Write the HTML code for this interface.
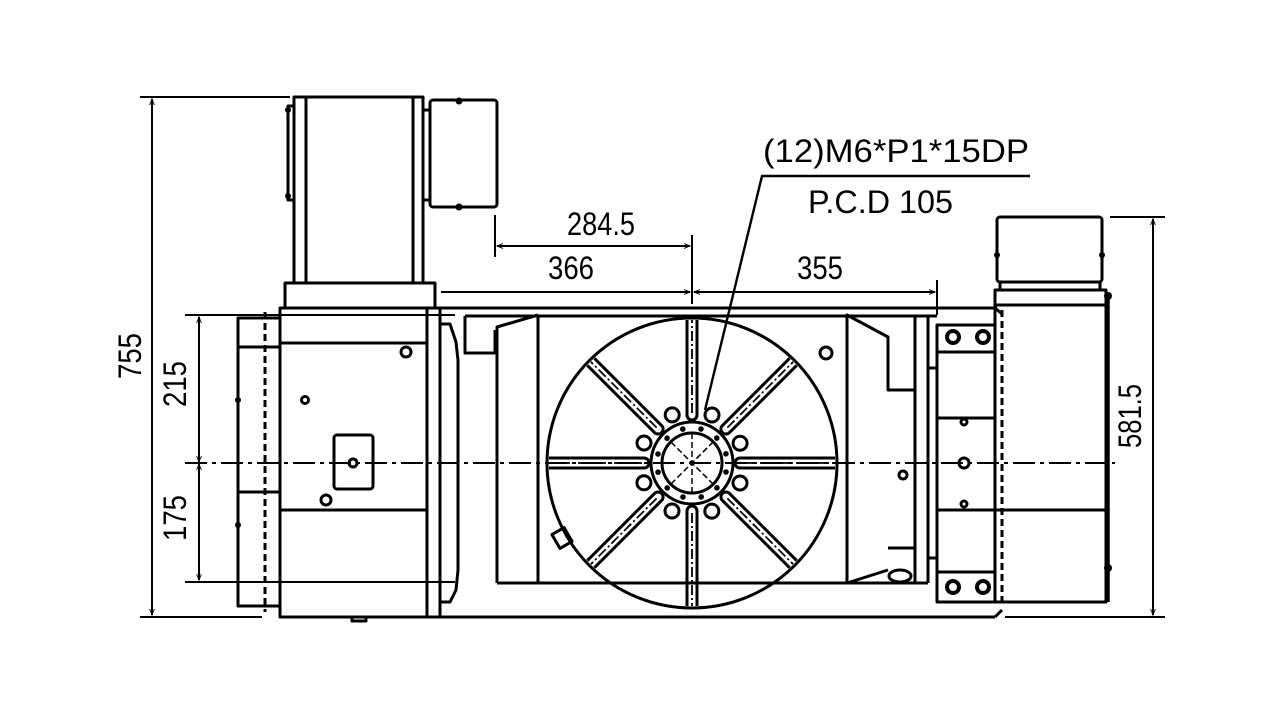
<!DOCTYPE html>
<html><head><meta charset="utf-8"><style>html,body{margin:0;padding:0;background:#fff}svg{display:block}</style></head>
<body>
<svg width="1280" height="720" viewBox="0 0 1280 720" xmlns="http://www.w3.org/2000/svg">
<defs>
<marker id="ar" viewBox="0 0 10 10" refX="10" refY="5" markerWidth="10" markerHeight="6" orient="auto-start-reverse" markerUnits="userSpaceOnUse"><path d="M0,1 L10,5 L0,9" fill="none" stroke="#000" stroke-width="1.5"/></marker>
<g id="slot">
<path d="M48,-5 L143,-5 M48,5 L143,5 M48,-5 A5,5 0 0 0 48,5" fill="none" stroke="#000" stroke-width="3"/>
<line x1="50" y1="0" x2="143" y2="0" stroke="#000" stroke-width="1.8" stroke-dasharray="10,3,2,3"/>
</g>
</defs>
<rect width="1280" height="720" fill="#fff"/>
<g fill="none" stroke="#000" stroke-width="3" stroke-linejoin="round">
<!-- left motor -->
<rect x="294" y="97" width="129" height="186"/>
<line x1="306" y1="97" x2="306" y2="283"/><line x1="413" y1="97" x2="413" y2="283"/>
<path d="M294,106 L288,106 L288,200 L294,200"/>
<rect x="430" y="100" width="67" height="107" rx="3"/>
<line x1="423" y1="110" x2="430" y2="110"/><line x1="423" y1="200" x2="430" y2="200"/>
<rect x="285" y="283" width="150" height="25"/>
<rect x="280" y="308" width="147" height="309"/>
<line x1="280" y1="343" x2="427" y2="343"/><line x1="280" y1="510" x2="427" y2="510"/>
<rect x="427" y="308" width="13" height="309"/>
<rect x="238" y="318" width="42" height="288"/>
<line x1="238" y1="347" x2="280" y2="347"/><line x1="238" y1="492" x2="280" y2="492"/>
<line x1="265" y1="312" x2="265" y2="612" stroke-dasharray="7,4"/>
<path d="M440,324 L450,324 L456,342 L458,360 L458,570 L456,590 L450,602 L440,602"/>
<circle cx="406" cy="352" r="5"/><circle cx="305" cy="400" r="3.5"/><circle cx="326" cy="500" r="5"/>
<rect x="334" y="435" width="39" height="54" rx="3"/>
<circle cx="353" cy="463" r="4"/>
<rect x="352" y="617" width="14" height="4"/>
<!-- long frame -->
<line x1="440" y1="308" x2="997" y2="308"/>
<line x1="440" y1="617" x2="995" y2="617"/>
<line x1="465" y1="316" x2="937" y2="316"/>
<!-- center housing -->
<path d="M465,316 L465,353 L495,353 L495,330"/>
<path d="M497,583 L497,327 L538,315"/>
<line x1="538" y1="315" x2="538" y2="583"/>
<line x1="497" y1="583" x2="928" y2="583"/>
<path d="M847,583 L847,315 L888,337 L888,390 L915,390"/>
<line x1="915" y1="315" x2="915" y2="583"/><line x1="928" y1="315" x2="928" y2="583"/>
<path d="M888,548 L915,548 M847,583 L888,570"/>
<ellipse cx="900" cy="576" rx="11" ry="6"/>
<circle cx="826" cy="353" r="6"/><circle cx="903" cy="475" r="4"/>
<rect x="555" y="530" width="14" height="16" transform="rotate(-30 562 538)"/>
<!-- table -->
<circle cx="692" cy="463" r="145"/>
</g>
<g transform="translate(692,463)">
<use href="#slot" transform="rotate(0)"/><use href="#slot" transform="rotate(45)"/><use href="#slot" transform="rotate(90)"/><use href="#slot" transform="rotate(135)"/>
<use href="#slot" transform="rotate(180)"/><use href="#slot" transform="rotate(225)"/><use href="#slot" transform="rotate(270)"/><use href="#slot" transform="rotate(315)"/>
<g fill="none" stroke="#000" stroke-width="3">
<circle r="41"/><circle r="30"/>
<g id="bh"><circle cx="20" cy="-48" r="7"/></g>
<use href="#bh" transform="rotate(45)"/><use href="#bh" transform="rotate(90)"/><use href="#bh" transform="rotate(135)"/><use href="#bh" transform="rotate(180)"/><use href="#bh" transform="rotate(225)"/><use href="#bh" transform="rotate(270)"/><use href="#bh" transform="rotate(315)"/>
<g stroke-width="1.5" stroke-dasharray="6,3"><line x1="-21" y1="-21" x2="21" y2="21"/><line x1="-21" y1="21" x2="21" y2="-21"/><line x1="0" y1="-30" x2="0" y2="30"/></g>
</g>
<g fill="#000"><g id="dt"><circle cx="9" cy="-34" r="2.8"/></g>
<use href="#dt" transform="rotate(30)"/><use href="#dt" transform="rotate(60)"/><use href="#dt" transform="rotate(90)"/><use href="#dt" transform="rotate(120)"/><use href="#dt" transform="rotate(150)"/><use href="#dt" transform="rotate(180)"/><use href="#dt" transform="rotate(210)"/><use href="#dt" transform="rotate(240)"/><use href="#dt" transform="rotate(270)"/><use href="#dt" transform="rotate(300)"/><use href="#dt" transform="rotate(330)"/></g>
</g>
<g fill="none" stroke="#000" stroke-width="3" stroke-linejoin="round">
<!-- right motor -->
<rect x="997" y="217" width="105" height="65" rx="3"/>
<line x1="1000" y1="282" x2="1000" y2="290"/><line x1="1100" y1="282" x2="1100" y2="290"/>
<rect x="995" y="290" width="111" height="312"/>
<line x1="1108" y1="292" x2="1108" y2="602" stroke-width="3.5"/>
<line x1="995" y1="305" x2="1106" y2="305"/>
<line x1="937" y1="510" x2="1106" y2="510"/>
<line x1="1002" y1="310" x2="1002" y2="606" stroke-dasharray="7,4"/>
<path d="M995,308 L1002,314 M995,617 L1002,610"/>
<rect x="937" y="325" width="58" height="277"/>
<line x1="937" y1="352" x2="995" y2="352"/><line x1="937" y1="418" x2="995" y2="418"/><line x1="937" y1="572" x2="995" y2="572"/>
<line x1="928" y1="368" x2="937" y2="368"/><line x1="928" y1="558" x2="937" y2="558"/>
<g stroke-width="4"><circle cx="953" cy="337" r="6"/><circle cx="983" cy="337" r="6"/><circle cx="953" cy="587" r="6"/><circle cx="983" cy="587" r="6"/></g>
<circle cx="964" cy="422" r="3"/><circle cx="964" cy="504" r="3"/><circle cx="964" cy="463" r="5"/>
</g>
<g fill="#000"><circle cx="1108" cy="296" r="4"/><circle cx="1108" cy="568" r="4"/><circle cx="459" cy="101" r="3.5"/><circle cx="459" cy="207" r="3.5"/><circle cx="288" cy="110" r="3"/><circle cx="288" cy="196" r="3"/><circle cx="238" cy="400" r="3"/><circle cx="238" cy="525" r="3"/><circle cx="997" cy="255" r="3"/><circle cx="1102" cy="255" r="3"/></g>
<!-- centerline -->
<line x1="185" y1="463" x2="1115" y2="463" stroke="#000" stroke-width="2" stroke-dasharray="22,5,4,5"/>
<!-- dimensions -->
<g stroke="#000" stroke-width="2" fill="none">
<line x1="140" y1="97" x2="290" y2="97"/><line x1="140" y1="617" x2="262" y2="617"/>
<line x1="152" y1="99" x2="152" y2="615" marker-start="url(#ar)" marker-end="url(#ar)"/>
<line x1="185" y1="315" x2="455" y2="315"/><line x1="185" y1="582" x2="455" y2="582"/>
<line x1="199" y1="317" x2="199" y2="462" marker-start="url(#ar)" marker-end="url(#ar)"/>
<line x1="199" y1="464" x2="199" y2="580" marker-start="url(#ar)" marker-end="url(#ar)"/>
<line x1="495" y1="215" x2="495" y2="257"/><line x1="692" y1="235" x2="692" y2="304"/><line x1="937" y1="280" x2="937" y2="315"/>
<line x1="497" y1="246" x2="690" y2="246" marker-start="url(#ar)" marker-end="url(#ar)"/>
<line x1="441" y1="292" x2="690" y2="292" marker-end="url(#ar)"/>
<line x1="694" y1="292" x2="935" y2="292" marker-start="url(#ar)" marker-end="url(#ar)"/>
<line x1="1110" y1="217" x2="1165" y2="217"/><line x1="1005" y1="617" x2="1165" y2="617"/>
<line x1="1153" y1="219" x2="1153" y2="615" marker-start="url(#ar)" marker-end="url(#ar)"/>
<path d="M705,410 L762,176 L1030,176" stroke-width="2.4"/>
</g>
<g font-family="'Liberation Sans', sans-serif" font-size="32" fill="#000">
<text x="763" y="162" textLength="266" lengthAdjust="spacingAndGlyphs">(12)M6*P1*15DP</text>
<text x="808" y="213" textLength="145" lengthAdjust="spacingAndGlyphs">P.C.D 105</text>
<text x="567" y="235" textLength="68" lengthAdjust="spacingAndGlyphs">284.5</text>
<text x="548" y="279" textLength="46" lengthAdjust="spacingAndGlyphs">366</text>
<text x="797" y="279" textLength="46" lengthAdjust="spacingAndGlyphs">355</text>
<text transform="translate(141,379) rotate(-90)" textLength="46" lengthAdjust="spacingAndGlyphs">755</text>
<text transform="translate(186,407) rotate(-90)" textLength="46" lengthAdjust="spacingAndGlyphs">215</text>
<text transform="translate(186,541) rotate(-90)" textLength="46" lengthAdjust="spacingAndGlyphs">175</text>
<text transform="translate(1141,448) rotate(-90)" textLength="64" lengthAdjust="spacingAndGlyphs">581.5</text>
</g>
</svg>
</body></html>
